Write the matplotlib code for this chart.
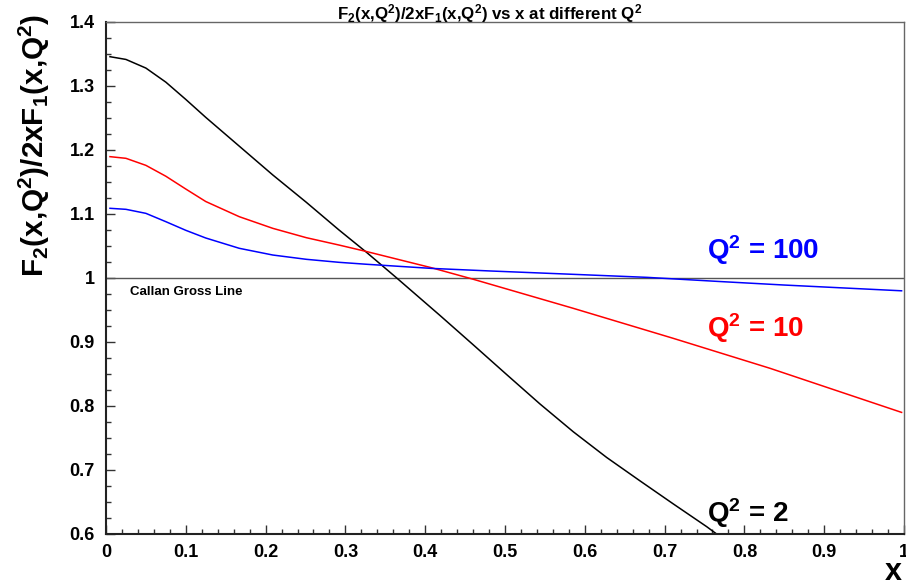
import numpy as np
import matplotlib.pyplot as plt
from matplotlib.ticker import MultipleLocator

plt.rcParams['font.family'] = ['Liberation Sans', 'DejaVu Sans']
plt.rcParams['font.weight'] = 'bold'
plt.rcParams['mathtext.fontset'] = 'custom'
plt.rcParams['mathtext.rm'] = 'Liberation Sans:bold'
plt.rcParams['mathtext.it'] = 'Liberation Sans:bold'
plt.rcParams['mathtext.bf'] = 'Liberation Sans:bold'

# values
x_q2 = [0.005, 0.025, 0.05, 0.075, 0.1, 0.125, 0.167, 0.209, 0.251, 0.292, 0.326,
        0.3634, 0.4185, 0.4603, 0.502, 0.5439, 0.5856, 0.6274, 0.6692, 0.7109,
        0.7527, 0.7652, 0.775]
r_q2 = [1.3458, 1.3415, 1.328, 1.306, 1.279, 1.251, 1.206, 1.161, 1.1183, 1.075, 1.0406,
        1.001, 0.9415, 0.8955, 0.8492, 0.8031, 0.7597, 0.7196, 0.683, 0.647,
        0.6115, 0.600, 0.591]

x_q10 = [0.005, 0.025, 0.05, 0.075, 0.1, 0.125, 0.167, 0.209, 0.251, 0.292, 0.326,
         0.408, 0.4603, 0.5856, 0.7109, 0.8321, 0.997]
r_q10 = [1.1896, 1.187, 1.176, 1.159, 1.139, 1.1195, 1.0958, 1.0776, 1.063, 1.0515, 1.0415,
         1.016, 0.998, 0.9526, 0.9057, 0.8589, 0.790]

x_q100 = [0.005, 0.025, 0.05, 0.075, 0.1, 0.125, 0.167, 0.209, 0.251, 0.292, 0.326,
          0.408, 0.481, 0.6, 0.678, 0.769, 0.85, 0.997]
r_q100 = [1.1089, 1.1073, 1.101, 1.088, 1.0745, 1.0625, 1.0464, 1.0359, 1.0292, 1.0245, 1.0215,
          1.015, 1.011, 1.005, 1.001, 0.9945, 0.989, 0.980]

fig = plt.figure(figsize=(9.06, 5.85), dpi=100)
ax = fig.add_axes([106/906, 1-534/585, 798/906, 512/585])

ax.axhline(1.0, color='#555555', lw=1)
ax.plot(x_q2, r_q2, color='black', lw=1.1)
ax.plot(x_q10, r_q10, color='red', lw=1.1)
ax.plot(x_q100, r_q100, color='blue', lw=1.1)

ax.set_xlim(0, 1)
ax.set_ylim(0.6, 1.4)
ax.xaxis.set_major_locator(MultipleLocator(0.1))
ax.xaxis.set_minor_locator(MultipleLocator(0.02))
ax.yaxis.set_major_locator(MultipleLocator(0.1))
ax.yaxis.set_minor_locator(MultipleLocator(0.025))
ax.set_xticklabels([f'{v:g}' for v in ax.get_xticks()])
ax.set_yticklabels([f'{v:g}' for v in ax.get_yticks()])
ax.tick_params(which='both', direction='in', top=False, right=False,
               labelsize=13, color='#333333')
ax.tick_params(which='major', length=6.5, width=1)
ax.tick_params(which='minor', length=3.3, width=1)
ax.tick_params(axis='x', pad=7)
ax.tick_params(axis='y', pad=8)
for s in ['top', 'right']:
    ax.spines[s].set_color('#666666')
    ax.spines[s].set_linewidth(1)
for s in ['left', 'bottom']:
    ax.spines[s].set_color('#222222')
    ax.spines[s].set_linewidth(1.5)

ax.text(0.753, 1.0297, 'Q$^2$ = 100', color='blue', fontsize=20, va='baseline')
ax.text(0.753, 0.9083, 'Q$^2$ = 10', color='red', fontsize=20, va='baseline')
ax.text(0.753, 0.619, 'Q$^2$ = 2', color='black', fontsize=20, va='baseline')
ax.text(0.030, 0.973, 'Callan Gross Line', fontsize=9.5, va='baseline')

fig.text(490/906, 1-19/585, 'F$_2$(x,Q$^2$)/2xF$_1$(x,Q$^2$) vs x at different Q$^2$',
         fontsize=12.2, ha='center', va='baseline')
fig.text(34/906, 1-145/585, 'F$_2$(x,Q$^2$)/2xF$_1$(x,Q$^2$)', fontsize=21.3,
         rotation=90, ha='center', va='center')
fig.text(902/906, 1-580/585, 'x', fontsize=22, ha='right', va='baseline')

fig.savefig('out.png', dpi=100)
